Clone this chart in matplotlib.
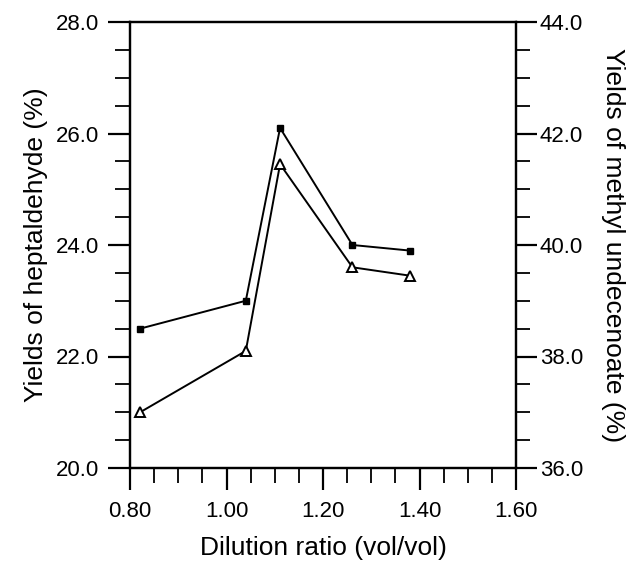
import matplotlib
matplotlib.use('Agg')
import matplotlib.pyplot as plt
from matplotlib.ticker import MultipleLocator, FormatStrFormatter

plt.rcParams['font.family'] = ['Liberation Sans', 'DejaVu Sans']

# 稀释比与两种产物收率
dilution = [0.821, 1.040, 1.111, 1.261, 1.380]
heptaldehyde = [22.5, 23.0, 26.1, 24.0, 23.9]
methyl_undecenoate = [37.0, 38.1, 41.45, 39.6, 39.45]

fig = plt.figure(figsize=(6.33, 5.62), dpi=100)
ax = fig.add_axes([130 / 633, 1 - 468 / 562, 386 / 633, 446 / 562])
ax2 = ax.twinx()

ax.plot(dilution, heptaldehyde, color='black', linewidth=1.4,
        marker='s', markersize=5, markerfacecolor='black', markeredgecolor='black')
ax2.plot(dilution, methyl_undecenoate, color='black', linewidth=1.4,
         marker='^', markersize=7.5, markerfacecolor='white', markeredgecolor='black',
         markeredgewidth=1.4)

ax.set_xlim(0.8, 1.6)
ax.set_ylim(20, 28)
ax2.set_ylim(36, 44)

ax.xaxis.set_major_locator(MultipleLocator(0.2))
ax.xaxis.set_minor_locator(MultipleLocator(0.05))
ax.yaxis.set_major_locator(MultipleLocator(2))
ax.yaxis.set_minor_locator(MultipleLocator(0.5))
ax2.yaxis.set_major_locator(MultipleLocator(2))
ax2.yaxis.set_minor_locator(MultipleLocator(0.5))
ax.xaxis.set_major_formatter(FormatStrFormatter('%.2f'))
ax.yaxis.set_major_formatter(FormatStrFormatter('%.1f'))
ax2.yaxis.set_major_formatter(FormatStrFormatter('%.1f'))

for a in (ax, ax2):
    for s in a.spines.values():
        s.set_linewidth(1.6)
    a.tick_params(which='major', direction='out', length=16, width=1.6, labelsize=16)
    a.tick_params(which='minor', direction='out', length=11, width=1.3)
ax.tick_params(axis='x', which='both', top=False, pad=8)
ax.tick_params(axis='y', which='both', right=False, pad=6)
ax2.tick_params(axis='y', which='major', length=15, pad=2)
ax2.tick_params(axis='y', which='minor', length=10)

ax.set_xlabel('Dilution ratio (vol/vol)', fontsize=19, labelpad=10)
ax.set_ylabel('Yields of heptaldehyde (%)', fontsize=19, labelpad=6)
ax2.set_ylabel('Yields of methyl undecenoate (%)', fontsize=19, rotation=270,
               labelpad=30)

fig.savefig('out.png', dpi=100)
